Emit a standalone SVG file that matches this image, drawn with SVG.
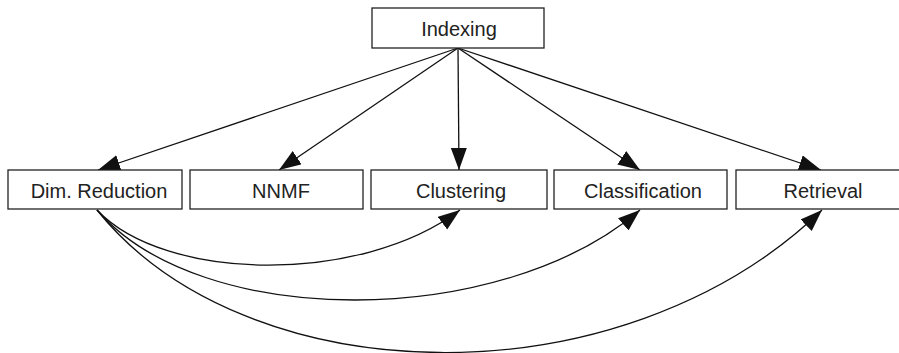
<svg xmlns="http://www.w3.org/2000/svg" width="899" height="353" viewBox="0 0 899 353">
<style>
.box{fill:#fff;stroke:#222;stroke-width:1.3}
.lbl{font-family:"Liberation Sans",Arial,sans-serif;font-size:20px;fill:#222;text-anchor:middle}
.edge{fill:none;stroke:#111;stroke-width:1.3;marker-end:url(#ah)}
</style>
<defs>
<marker id="ah" markerUnits="userSpaceOnUse" markerWidth="23" markerHeight="17" refX="22" refY="8" orient="auto">
<path d="M0,0 L22,8 L0,16 z" fill="#111"/>
</marker>
</defs>
<rect width="899" height="353" fill="#fff"/>
<g id="connectors">
<line class="edge" x1="458" y1="48" x2="98" y2="170"/>
<line class="edge" x1="458" y1="48" x2="279" y2="170"/>
<line class="edge" x1="458" y1="48" x2="459" y2="170"/>
<line class="edge" x1="458" y1="48" x2="640" y2="170"/>
<line class="edge" x1="458" y1="48" x2="821" y2="170"/>
<path class="edge" d="M97,210 C165,282 360,285 460,210"/>
<path class="edge" d="M97,210 C200,330 500,330 640,210"/>
<path class="edge" d="M97,210 C245,395 620,405 822,210"/>
</g>
<g id="indexing"><rect class="box" x="372" y="8" width="172" height="40"/><text class="lbl" x="459" y="36">Indexing</text></g>
<g id="dimred"><rect class="box" x="8" y="170" width="174" height="39"/><text class="lbl" x="99" y="198">Dim. Reduction</text></g>
<g id="nnmf"><rect class="box" x="190" y="170" width="173" height="39"/><text class="lbl" x="281" y="198">NNMF</text></g>
<g id="clustering"><rect class="box" x="371" y="170" width="176" height="39"/><text class="lbl" x="461" y="198">Clustering</text></g>
<g id="classification"><rect class="box" x="554" y="170" width="173" height="39"/><text class="lbl" x="643" y="198">Classification</text></g>
<g id="retrieval"><rect class="box" x="736" y="170" width="175" height="39"/><text class="lbl" x="823" y="198">Retrieval</text></g>
</svg>
